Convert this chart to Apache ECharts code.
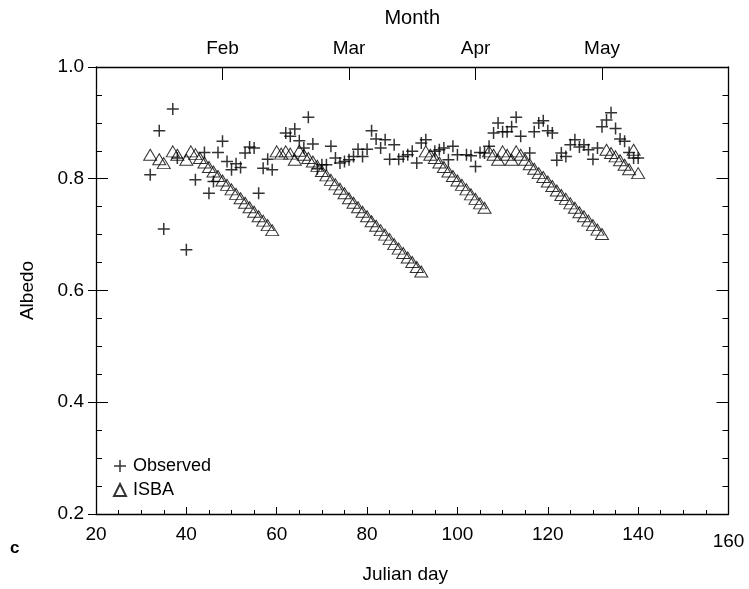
<!DOCTYPE html>
<html>
<head>
<meta charset="utf-8">
<script src="https://cdn.jsdelivr.net/npm/echarts@6/dist/echarts.min.js"></script>
<style>html,body{margin:0;padding:0;background:#fff;}#c{width:749px;height:589px;}</style>
</head>
<body>
<div id="c"></div>
<script>
// ---- data (Julian day, albedo) ----
const observedDays = [32,34,35,37,38,40,42,44,45,46,47,48,49,50,51,52,53,54,55,56,57,58,59,62,63,64,65,66,67,68,69,70,71,72,73,74,75,76,77,78,79,80,81,82,83,84,85,86,87,88,89,90,91,92,93,95,96,97,98,99,100,102,103,104,105,106,107,108,109,110,111,112,113,114,116,117,118,119,120,121,122,123,124,125,126,127,128,129,130,131,132,133,134,135,136,137,138,139,140];
const observedAlbedo = [0.807,0.886,0.710,0.925,0.837,0.673,0.798,0.847,0.774,0.795,0.847,0.867,0.831,0.816,0.827,0.820,0.846,0.857,0.855,0.774,0.819,0.835,0.816,0.882,0.876,0.889,0.868,0.855,0.910,0.862,0.818,0.825,0.825,0.858,0.837,0.828,0.831,0.834,0.840,0.853,0.840,0.853,0.886,0.871,0.855,0.870,0.835,0.861,0.835,0.840,0.843,0.849,0.828,0.864,0.870,0.849,0.852,0.855,0.834,0.858,0.843,0.843,0.841,0.822,0.847,0.846,0.858,0.882,0.900,0.884,0.884,0.893,0.910,0.876,0.846,0.884,0.900,0.904,0.886,0.882,0.833,0.846,0.840,0.861,0.870,0.857,0.861,0.852,0.835,0.855,0.893,0.905,0.918,0.890,0.871,0.867,0.847,0.837,0.837];
const isbaDays = [32,34,35,37,38,40,41,42,43,44,45,46,47,48,49,50,51,52,53,54,55,56,57,58,59,60,61,62,63,64,65,66,67,68,69,70,71,72,73,74,75,76,77,78,79,80,81,82,83,84,85,86,87,88,89,90,91,92,93,94,95,96,97,98,99,100,101,102,103,104,105,106,107,108,109,110,111,112,113,114,115,116,117,118,119,120,121,122,123,124,125,126,127,128,129,130,131,132,133,134,135,136,137,138,139,140];
const isbaAlbedo = [0.843,0.835,0.828,0.849,0.843,0.834,0.849,0.844,0.837,0.829,0.821,0.813,0.805,0.797,0.789,0.781,0.773,0.765,0.757,0.749,0.741,0.733,0.725,0.717,0.708,0.849,0.845,0.849,0.845,0.834,0.850,0.843,0.837,0.831,0.823,0.814,0.806,0.798,0.790,0.782,0.774,0.765,0.757,0.749,0.741,0.733,0.724,0.716,0.708,0.700,0.692,0.683,0.675,0.667,0.659,0.651,0.642,0.634,0.849,0.843,0.837,0.829,0.821,0.813,0.805,0.797,0.789,0.781,0.772,0.764,0.756,0.748,0.849,0.843,0.834,0.849,0.843,0.834,0.849,0.843,0.834,0.826,0.818,0.810,0.803,0.795,0.787,0.779,0.771,0.764,0.756,0.748,0.740,0.733,0.725,0.717,0.709,0.701,0.852,0.846,0.840,0.833,0.825,0.817,0.852,0.810];
const monthNames = ['Feb','Mar','Apr','May'];
const monthOffsets = [28,56,84,112]; // positions on the top axis (days after day 20)
const xTicks = {min:20, max:160, step:20};
const yTicks = {min:0.2, max:1.0, step:0.2};

const FONT = 'Liberation Sans, Arial, Helvetica, sans-serif';
const crossPath = 'path://M8.75,0 h2.5 v8.75 h8.75 v2.5 h-8.75 v8.75 h-2.5 v-8.75 h-8.75 v-2.5 h8.75 z';

const chart = echarts.init(document.getElementById('c'), null, {renderer:'canvas'});
const lineStyle = {color:'#000', width:1.3};
const option = {
  animation:false,
  backgroundColor:'#fff',
  textStyle:{fontFamily:FONT, color:'#000'},
  grid:{left:96, right:20.5, top:67, bottom:74, containLabel:false},
  legend:{
    orient:'vertical', left:108, top:452, itemGap:6, itemWidth:12, itemHeight:12,
    textStyle:{fontFamily:FONT, fontSize:18, color:'#000', padding:[0,0,0,2]},
    data:['Observed','ISBA']
  },
  graphic:[{type:'text', left:10, top:540, style:{text:'c', font:'bold 17px '+FONT, fill:'#000'}}],
  xAxis:[
    {type:'value', position:'bottom', min:xTicks.min, max:xTicks.max, interval:xTicks.step,
     name:'Julian day', nameLocation:'middle', nameGap:51,
     nameTextStyle:{fontFamily:FONT, fontSize:19, color:'#000', padding:[0,14,0,0]},
     axisLine:{show:true, lineStyle:lineStyle},
     axisTick:{show:true, inside:true, length:7, lineStyle:{color:'#000', width:1}},
     minorTick:{show:true, splitNumber:4, length:4, lineStyle:{color:'#000', width:1}},
     splitLine:{show:false},
     axisLabel:{fontFamily:FONT, fontSize:19, color:'#000', margin:11,
       formatter:v => v===160 ? '{b|160}' : String(v),
       rich:{b:{fontFamily:FONT, fontSize:19, color:'#000', padding:[7,0,0,0]}}}},
    {type:'value', position:'top', min:0, max:140, interval:28,
     name:'Month', nameLocation:'middle', nameGap:39,
     nameTextStyle:{fontFamily:FONT, fontSize:20, color:'#000'},
     axisLine:{show:true, lineStyle:lineStyle},
     axisTick:{show:true, inside:true, length:13, lineStyle:{color:'#000', width:1}},
     splitLine:{show:false},
     axisLabel:{fontFamily:FONT, fontSize:19, color:'#000', margin:9,
       formatter:v => { const i = monthOffsets.indexOf(v); return i>=0 ? monthNames[i] : ''; }}}
  ],
  yAxis:[
    {type:'value', position:'left', min:yTicks.min, max:yTicks.max, interval:yTicks.step,
     name:'Albedo', nameLocation:'middle', nameGap:59,
     nameTextStyle:{fontFamily:FONT, fontSize:19, color:'#000'},
     axisLine:{show:true, lineStyle:lineStyle},
     axisTick:{show:true, inside:false, length:8, lineStyle:{color:'#000', width:1}},
     splitLine:{show:false},
     axisLabel:{fontFamily:FONT, fontSize:19, color:'#000', margin:12, formatter:v => v.toFixed(1)}},
    {type:'value', position:'left', min:yTicks.min, max:yTicks.max, interval:yTicks.step,
     axisLine:{show:false},
     axisTick:{show:true, inside:true, length:12, lineStyle:{color:'#000', width:1}},
     minorTick:{show:true, splitNumber:4, length:6, lineStyle:{color:'#000', width:1}},
     splitLine:{show:false}, axisLabel:{show:false}},
    {type:'value', position:'right', min:yTicks.min, max:yTicks.max, interval:yTicks.step,
     axisLine:{show:true, lineStyle:lineStyle},
     axisTick:{show:true, inside:true, length:12, lineStyle:{color:'#000', width:1}},
     minorTick:{show:true, splitNumber:4, length:6, lineStyle:{color:'#000', width:1}},
     splitLine:{show:false}, axisLabel:{show:false}}
  ],
  series:[
    {name:'Observed', type:'scatter', xAxisIndex:0, yAxisIndex:0,
     symbol:crossPath, symbolSize:12,
     itemStyle:{color:'#000'},
     data: observedDays.map((d,i)=>[d, observedAlbedo[i]])},
    {name:'ISBA', type:'scatter', xAxisIndex:0, yAxisIndex:0,
     symbol:'triangle', symbolSize:[13,11],
     itemStyle:{color:'rgba(255,255,255,0)', borderColor:'#000', borderWidth:1},
     data: isbaDays.map((d,i)=>[d, isbaAlbedo[i]])}
  ]
};
chart.setOption(option);
</script>
</body>
</html>
